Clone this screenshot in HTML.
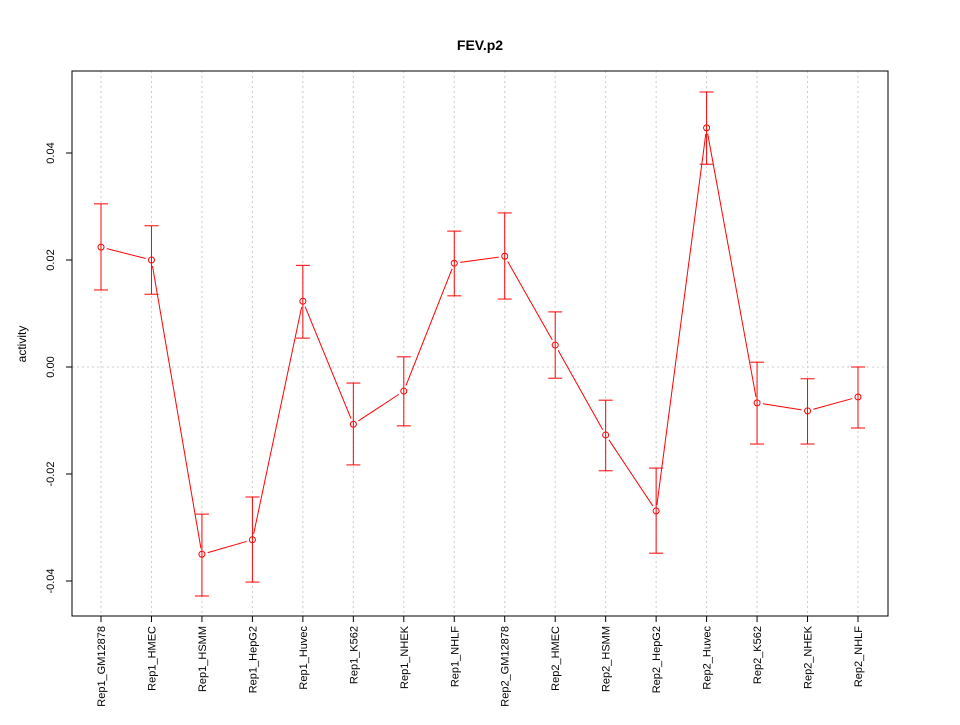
<!DOCTYPE html>
<html><head><meta charset="utf-8"><style>
html,body{margin:0;padding:0;background:#fff;}
svg text{font-family:"Liberation Sans",sans-serif;}
</style></head><body>
<svg id="chart" width="960" height="720" xmlns="http://www.w3.org/2000/svg">
<text x="480" y="50" text-anchor="middle" font-size="14" font-weight="bold">FEV.p2</text>
<text x="0" y="0" transform="translate(26,344) rotate(-90)" text-anchor="middle" font-size="12">activity</text>
<g id="grid"></g><g id="axes"></g><g id="marks"></g>
</svg>
<script>
const categories=["Rep1_GM12878","Rep1_HMEC","Rep1_HSMM","Rep1_HepG2","Rep1_Huvec","Rep1_K562","Rep1_NHEK","Rep1_NHLF","Rep2_GM12878","Rep2_HMEC","Rep2_HSMM","Rep2_HepG2","Rep2_Huvec","Rep2_K562","Rep2_NHEK","Rep2_NHLF"];
const values=[0.0224,0.0200,-0.0350,-0.0323,0.0123,-0.0107,-0.0045,0.0194,0.0207,0.0041,-0.0127,-0.0269,0.0447,-0.0067,-0.0082,-0.0056];
const upper=[0.0305,0.0264,-0.0275,-0.0243,0.0190,-0.0030,0.0019,0.0254,0.0288,0.0103,-0.0062,-0.0189,0.0514,0.0009,-0.0022,0.0000];
const lower=[0.0144,0.0136,-0.0428,-0.0402,0.0054,-0.0183,-0.0110,0.0133,0.0127,-0.0021,-0.0194,-0.0348,0.0379,-0.0144,-0.0144,-0.0114];
const yTicks=[-0.04,-0.02,0.00,0.02,0.04];
const yTickLabels=["-0.04","-0.02","0.00","0.02","0.04"];
const NS="http://www.w3.org/2000/svg";
const L=72,R=888,T=71,B=616;
function x(i){return 101+i*(858-101)/(categories.length-1);}
function y(v){return 367-v*5350;}
function mk(parent,tag,attrs){const e=document.createElementNS(NS,tag);for(const k in attrs)e.setAttribute(k,attrs[k]);document.getElementById(parent).appendChild(e);return e;}
let e;
categories.forEach((c,i)=>{
 e=mk("grid","line",{x1:x(i),x2:x(i),y1:T,y2:B,stroke:"#ccc","stroke-dasharray":"2,3"});
 
 
});
e=mk("grid","line",{x1:L,x2:R,y1:y(0),y2:y(0),stroke:"#ccc","stroke-dasharray":"2,3"});


e=mk("axes","rect",{x:L,y:T,width:R-L,height:B-T,fill:"none",stroke:"#000"});


yTicks.forEach((t,i)=>{
 e=mk("axes","line",{x1:L-6,x2:L,y1:y(t),y2:y(t),stroke:"#000"});
 
 
 e=mk("axes","text",{x:0,y:0,transform:`translate(54,${y(t)}) rotate(-90)`,"text-anchor":"middle","font-size":"11"});
 e.textContent=yTickLabels[i];
 
 
});
categories.forEach((c,i)=>{
 e=mk("axes","line",{x1:x(i),x2:x(i),y1:B,y2:B+6,stroke:"#000"});
 
 
 e=mk("axes","text",{x:0,y:0,transform:`translate(${x(i)+4},626) rotate(-90)`,"text-anchor":"end","font-size":"11"});
 e.textContent=c;
 
 
});
values.forEach((v,i)=>{
 const cx=x(i);
 e=mk("marks","line",{x1:cx,x2:cx,y1:y(upper[i]),y2:y(lower[i]),stroke:"#ff0000"});
 
 
 [upper[i],lower[i]].forEach(u=>{
  e=mk("marks","line",{x1:cx-7,x2:cx+7,y1:y(u),y2:y(u),stroke:"#ff0000"});
  
  
 });
});
for(let i=0;i<values.length-1;i++){
 const x1=x(i),y1=y(values[i]),x2=x(i+1),y2=y(values[i+1]);
 const d=Math.hypot(x2-x1,y2-y1),g=Math.min(6,d/2),ux=(x2-x1)/d,uy=(y2-y1)/d;
 e=mk("marks","line",{x1:x1+ux*g,y1:y1+uy*g,x2:x2-ux*g,y2:y2-uy*g,stroke:"#ff0000"});
 
 
}
values.forEach((v,i)=>{
 e=mk("marks","circle",{cx:x(i),cy:y(v),r:3,fill:"none",stroke:"#ff0000"});
 
 
});
</script>
</body></html>
